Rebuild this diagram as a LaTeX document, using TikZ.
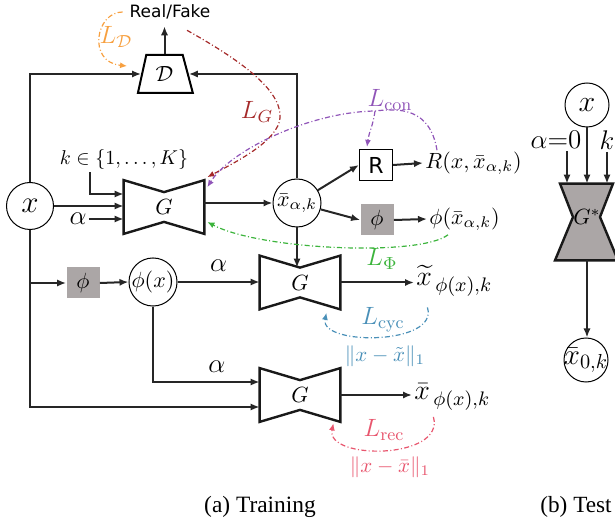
\RequirePackage{fix-cm}
\documentclass[tikz,border=0pt]{standalone}
\usepackage{amsmath,amssymb}
\usepackage{fontspec}
\usepackage{xcolor}
\usepackage{tikz}
\usetikzlibrary{arrows.meta,calc,shapes.geometric}
\newfontfamily\labelsans{DejaVu Sans}
\newfontfamily\capfont{Liberation Serif}
\definecolor{LossOrange}{HTML}{F7A040}
\definecolor{LossRed}{HTML}{A52A2A}
\definecolor{LossPurple}{HTML}{9055B8}
\definecolor{LossGreen}{HTML}{3CB43C}
\definecolor{LossBlue}{HTML}{4A90B8}
\definecolor{LossPink}{HTML}{E8566E}
\definecolor{BoxGrey}{HTML}{ABA6A6}
% bow-tie outline of a generator node
\newcommand{\drawgen}[1]{%
  \draw[genline] (#1.north west) -- ($(#1.north)+(0,12)$) -- (#1.north east)
    -- (#1.south east) -- ($(#1.south)+(0,-12)$) -- (#1.south west) -- cycle;}

\begin{document}
\begin{tikzpicture}[
  x=0.5pt,
  y=-0.5pt,
  line/.style={line width=1pt, draw=black!85},
  arrow/.style={line, -{Latex[length=4.5pt,width=3.6pt]}},
  gen/.style={minimum width=40pt, minimum height=26.5pt, inner sep=0pt, font=\fontsize{11}{13}\selectfont},
  genline/.style={line width=1.2pt, line join=miter, draw=black!90},
  circnode/.style={circle, draw, line width=0.5pt, minimum size=24pt, inner sep=0.5pt, font=\fontsize{11}{13}\selectfont},
  phibox/.style={fill=BoxGrey, minimum width=16.5pt, minimum height=15.5pt, inner sep=0pt, font=\fontsize{11}{13}\selectfont},
  rbox/.style={draw, line width=0.6pt, fill=white, minimum width=16.5pt, minimum height=15.5pt, inner sep=0pt, font=\labelsans\fontsize{11}{13}\selectfont},
  disc/.style={trapezium, draw, line width=1pt, trapezium left angle=75, trapezium right angle=72,
    trapezium stretches=true, minimum width=27.5pt, minimum height=19pt, inner sep=0pt, font=\fontsize{11}{13}\selectfont},
  mathlabel/.style={inner sep=1pt, font=\fontsize{11}{13}\selectfont},
  outlabel/.style={inner sep=1pt, font=\fontsize{14}{16}\selectfont},
  biglabel/.style={inner sep=1pt, font=\fontsize{13.5}{15}\selectfont},
  losslabel/.style={inner sep=0pt, font=\fontsize{12.5}{14}\selectfont},
  normlabel/.style={inner sep=0pt, font=\fontsize{10.5}{12}\selectfont},
  lossarrow/.style={line width=0.6pt, dash pattern=on 2.5pt off 1.2pt on 0.5pt off 1.2pt, -{Latex[length=3.5pt,width=3pt]}}
]
\useasboundingbox (0,0) rectangle (615,523);

% training
\node[circnode, minimum size=23.5pt, font=\fontsize{15.5}{17}\selectfont] (xin) at (30,206) {$x$};
\node[disc] (D) at (164.5,74) {$\mathcal{D}$};
\node[font=\labelsans\fontsize{8.5}{10}\selectfont] (real) at (170,12) {Real/Fake};
\node[gen] (G1) at (164,207) {$G$};
\drawgen{G1}
\node[mathlabel, font=\fontsize{10}{12}\selectfont] (klab) at (124,160) {$k\in\{1,\dots,K\}$};
\node[biglabel] (alpha1) at (78,219) {$\alpha$};
\node[circnode] (xbar) at (297,203) {$\bar{x}_{\alpha,k}$};
\node[rbox] (Rbox) at (376,165) {R};
\node[phibox] (phiR) at (377,220) {$\phi$};
\node[mathlabel, anchor=west] (Rlab) at (423,163) {$R(x,\bar{x}_{\alpha,k})$};
\node[mathlabel, anchor=west] (phiRlab) at (427,219) {$\phi(\bar{x}_{\alpha,k})$};
\node[phibox] (phiL) at (83,283) {$\phi$};
\node[circnode, inner sep=0pt] (phix) at (153,282) {$\phi(x)$};
\node[gen] (G2) at (300,282.5) {$G$};
\drawgen{G2}
\node[gen] (G3) at (300,395) {$G$};
\drawgen{G3}
\node[outlabel, anchor=base west] (xtl) at (414,286) {$\widetilde{x}_{\,\phi(x),k}$};
\node[outlabel, anchor=base west] (xbl) at (412,400) {$\bar{x}_{\,\phi(x),k}$};

\coordinate (G1k) at ($(G1.west)+(0,-13)$);
\coordinate (G3a) at ($(G3.west)+(0,-13)$);
\coordinate (G3x) at ($(G3.west)+(0,12)$);
\coordinate (G2top) at ($(G2.north)+(0,12)$);

\draw[arrow] (D.north) -- (D.north |- real.south);
\draw[arrow] (xin.north) |- (D.west);
\draw[arrow] (xbar.north) |- (D.east);
\draw[arrow] ($(klab.south)+(-34,0)$) |- (G1k);
\draw[arrow] (xin.east) -- (xin.east -| G1.west);
\draw[arrow] (alpha1.east) -- (alpha1.east -| G1.west);
\draw[arrow] (G1.east |- xbar.west) -- (xbar.west);
\draw[arrow] (xbar) -- (Rbox.west);
\draw[arrow] (xbar) -- (phiR.west);
\draw[arrow] (Rbox.east) -- (Rlab.west);
\draw[arrow] (phiR.east) -- (phiRlab.west);
\draw[arrow] (xbar.south) -- (xbar.south |- G2top);
\draw[arrow] (xin.south |- phiL.west) -- (phiL.west);
\draw[arrow] (phiL.east) -- (phix.west);
\draw[arrow] (phix.east) -- node[biglabel, above=3.5pt] (alpha2) {$\alpha$} (phix.east -| G2.west);
\draw[arrow] (phix.south) |- node[biglabel, pos=0.8, above=3.5pt] (alpha3) {$\alpha$} (G3a);
\draw[arrow] (xin.south) |- (G3x);
\draw[arrow] (G2.east) -- (G2.east -| xtl.west);
\draw[arrow] (G3.east) -- (G3.east -| xbl.west);

% losses
\node[losslabel, text=LossOrange] (LD) at (116,37) {$L_{\mathcal{D}}$};
\node[losslabel, text=LossRed] (LG) at (257,112) {$L_{G}$};
\node[losslabel, text=LossPurple] (Lcon) at (390,100) {$L_{\mathrm{con}}$};
\node[losslabel, text=LossGreen] (Lphi) at (382,259) {$L_{\Phi}$};
\node[losslabel, text=LossBlue] (Lcyc) at (383,320) {$L_{\mathrm{cyc}}$};
\node[normlabel, text=LossBlue] (ncyc) at (385,356) {$\|x-\tilde{x}\|_1$};
\node[losslabel, text=LossPink] (Lrec) at (384,430) {$L_{\mathrm{rec}}$};
\node[normlabel, text=LossPink] (nrec) at (390,467) {$\|x-\bar{x}\|_1$};
\coordinate (conj) at (375,111);

\draw[lossarrow, draw=LossOrange] (real.west) .. controls +(-27,0) and +(-40,-4) .. ($(D.west)+(-14,-8)$);
\draw[lossarrow, draw=LossRed] ($(real.south)+(17,4)$) .. controls (240,60) and (282,90) .. (280,118)
  .. controls (278,140) and (240,160) .. ($(G1.north east)+(3,-3)$);
\draw[lossarrow, draw=LossPurple] ($(Rlab.north west)+(14,1)$) .. controls +(-7,-42) and +(25,-3) .. (conj)
  .. controls +(-65,1) and +(23,-37) .. ($(G1.north east)+(3,7)$);
\draw[lossarrow, draw=LossPurple] (conj) .. controls +(-2,15) and +(2,-15) .. ($(Rbox.north)+(-9,-2)$);
\draw[lossarrow, draw=LossGreen] ($(phiRlab.south west)+(21,2)$) .. controls +(-28,22) and +(53,28) .. ($(G1.east)+(3,15)$);
\draw[lossarrow, draw=LossBlue] ($(G2.south east)+(87,-2)$) .. controls +(12,38) and +(-7,33) .. ($(G2.south east)+(-14,3.5)$);
\draw[lossarrow, draw=LossPink] ($(G3.south east)+(93,-5)$) .. controls +(12,43) and +(-8,37) .. ($(G3.south east)+(-7,1.5)$);

% test
\node[circnode, minimum size=22pt, font=\fontsize{15}{17}\selectfont] (xs) at (587,105) {$x$};
\node[biglabel] (a0) at (556,140) {$\alpha{=}0$};
\node[biglabel] (ks) at (607,140) {$k$};
\node[gen, minimum width=31.5pt, minimum height=38pt] (Gs) at (587,222) {};
\draw[genline, fill=BoxGrey] ($(Gs.north)+(-27,0)$) -- ($(Gs.north)+(26,0)$) -- ($(Gs.center)+(13,-5)$)
  -- ($(Gs.south)+(31,0)$) -- ($(Gs.south)+(-32,0)$) -- ($(Gs.center)+(-14,-5)$) -- cycle;
\node[font=\fontsize{11}{13}\selectfont] (Gslab) at ($(Gs.center)+(0,-5)$) {$G^{*}$};
\node[circnode, minimum size=22pt, inner sep=-4pt, font=\fontsize{14.5}{16}\selectfont] (xs0) at (586,360) {$\bar{x}_{0,k}$};
\coordinate (a0in) at ($(a0.south)+(11,0)$);
\draw[arrow] (a0in) -- (a0in |- Gs.north);
\draw[arrow] (xs.south) -- (xs.south |- Gs.north);
\draw[arrow] (ks.south) -- (ks.south |- Gs.north);
\draw[arrow] (Gs.south) -- (Gs.south |- xs0.north);

% captions
\node[font=\capfont\fontsize{11.7}{13}\selectfont] (capa) at (260,507) {(a) Training};
\node[font=\capfont\fontsize{11.6}{13}\selectfont] (capb) at (576,507) {(b) Test};
\end{tikzpicture}
\end{document}
